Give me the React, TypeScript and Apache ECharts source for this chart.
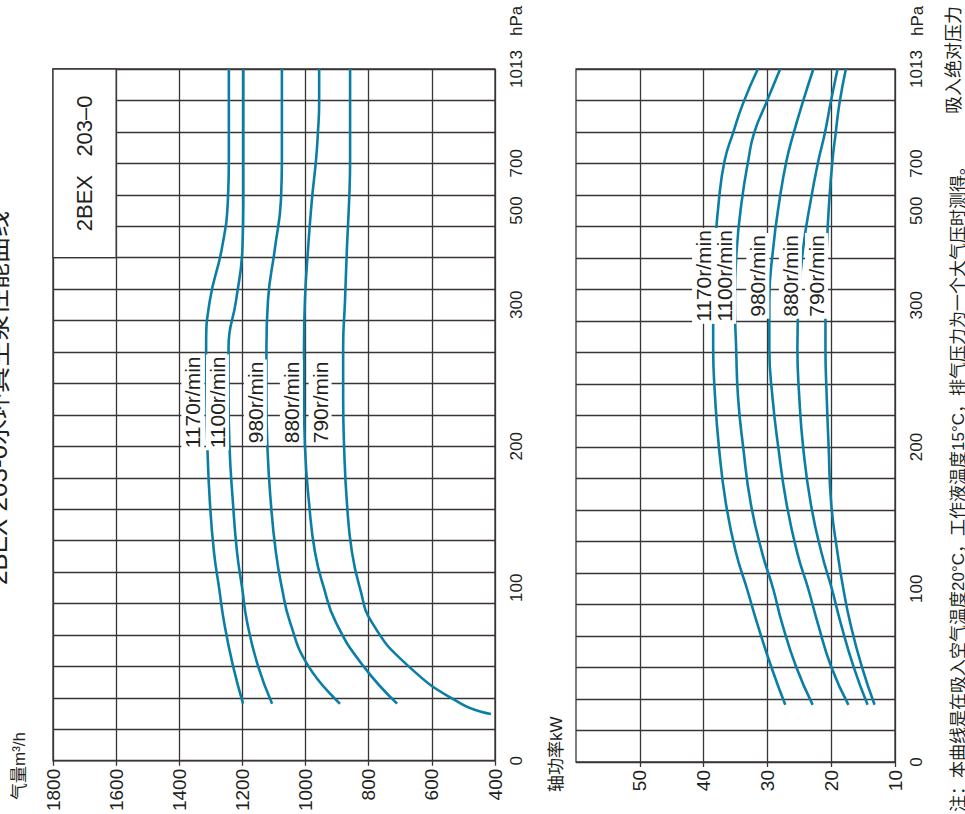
import React, { useEffect, useRef } from 'react';
import * as echarts from 'echarts';

// ---- pressure axis (hPa): tick labels and their place on the 22-division grid
const PRESSURE_TICKS = [0, 100, 200, 300, 500, 700, 1013];
const PRESSURE_TICK_POS = [0, 5.5, 10, 14.5, 17.5, 19, 22];

// ---- other tick labels
const FLOW_TICKS = [400, 600, 800, 1000, 1200, 1400, 1600, 1800];
const POWER_TICKS = [10, 20, 30, 40, 50];

// ---- curves
const SPEEDS = ['1170r/min', '1100r/min', '980r/min', '880r/min', '790r/min'];
const PRESSURE = [33, 55, 80, 100, 125, 160, 200, 235, 270, 310, 420, 545, 710, 800, 900, 1013];
const PRESSURE_790 = [27, 33, 55, 80, 100, 125, 160, 200, 235, 270, 310, 420, 545, 710, 800, 900, 1013];

// 气量 m3/h
const FLOW_1170 = [1198, 1230, 1258, 1274, 1290, 1303, 1311, 1314, 1315, 1303, 1265, 1246, 1243, 1243, 1243, 1243];
const FLOW_1100 = [1106, 1151, 1185, 1201, 1217, 1230, 1241, 1244, 1244, 1220, 1200, 1197, 1197, 1197, 1197, 1197];
const FLOW_980 = [891, 992, 1049, 1075, 1094, 1110, 1121, 1124, 1124, 1119, 1097, 1078, 1075, 1075, 1075, 1075];
const FLOW_880 = [710, 818, 904, 942, 970, 989, 1002, 1005, 1005, 1002, 992, 980, 967, 961, 957, 957];
const FLOW_790 = [413, 508, 676, 790, 828, 853, 869, 878, 881, 881, 875, 869, 862, 859, 859, 859, 859];

// 轴功率 kW
const POWER_1170 = [27.2, 29.4, 31.6, 33.2, 34.9, 36.5, 37.6, 38.2, 38.5, 38.5, 38.2, 37.6, 36.7, 35.4, 33.8, 31.5];
const POWER_1100 = [22.9, 25.5, 27.7, 29.1, 30.8, 32.6, 33.8, 34.6, 34.9, 35.1, 34.8, 34.0, 33.0, 32.1, 30.2, 28.0];
const POWER_980 = [17.3, 20.0, 22.1, 23.6, 25.3, 27.0, 28.3, 29.2, 29.7, 29.7, 29.1, 28.1, 27.0, 25.9, 24.5, 22.8];
const POWER_880 = [14.3, 16.5, 18.5, 19.9, 21.5, 23.2, 24.4, 25.0, 25.3, 25.1, 24.4, 23.2, 22.0, 21.0, 20.1, 19.0];
const POWER_790 = [13.2, 15.2, 17.0, 18.1, 19.0, 20.0, 20.4, 20.7, 20.9, 20.9, 20.7, 20.3, 19.8, 19.3, 18.7, 17.7];

// ---- curve label anchors (data coordinates)
const FLOW_LABEL_AT = [1357, 1279, 1159, 1045, 954];
const FLOW_LABEL_P = 231;
const POWER_LABEL_AT = [40.0, 36.7, 31.5, 26.4, 22.3];
const POWER_LABEL_P = 362;

const TITLE = '2BEX 203-0水环真空泵性能曲线';
const MODEL = '2BEX   203–0';
const NOTE = '注：本曲线是在吸入空气温度20°C，工作液温度15°C，排气压力为一个大气压时测得。';

const FONT = "'Liberation Sans', Arial, 'Noto Sans CJK SC', sans-serif";
const GRID_C = '#3b3435';
const CURVE_C = '#0b7ea6';
const TEXT_C = '#231f20';

function pToPos(p: number): number {
  for (let i = 1; i < PRESSURE_TICKS.length; i++) {
    if (p <= PRESSURE_TICKS[i]) {
      const p0 = PRESSURE_TICKS[i - 1];
      const p1 = PRESSURE_TICKS[i];
      const q0 = PRESSURE_TICK_POS[i - 1];
      const q1 = PRESSURE_TICK_POS[i];
      return q0 + ((p - p0) / (p1 - p0)) * (q1 - q0);
    }
  }
  return PRESSURE_TICK_POS[PRESSURE_TICK_POS.length - 1];
}

function pressureLabel(v: number): string {
  let best = 0;
  for (let i = 0; i < PRESSURE_TICK_POS.length; i++) {
    if (Math.abs(PRESSURE_TICK_POS[i] - v) < Math.abs(PRESSURE_TICK_POS[best] - v)) best = i;
  }
  return String(PRESSURE_TICKS[best]);
}

function buildOption() {
  const flows = [FLOW_1170, FLOW_1100, FLOW_980, FLOW_880, FLOW_790];
  const powers = [POWER_1170, POWER_1100, POWER_980, POWER_880, POWER_790];
  const lineStyle = { color: GRID_C, width: 1.3 };

  const curve = (data: number[][], axis: number) => ({
    type: 'line',
    xAxisIndex: axis,
    yAxisIndex: axis,
    data,
    smooth: 0.5,
    showSymbol: false,
    silent: true,
    lineStyle: { color: CURVE_C, width: 2.6 },
    z: 3,
  });

  const flowSeries = flows.map((f, i) => {
    const ps = i === 4 ? PRESSURE_790 : PRESSURE;
    return curve(ps.map((p, j) => [f[j], pToPos(p)]), 0);
  });
  const powerSeries = powers.map((w) => curve(PRESSURE.map((p, j) => [w[j], pToPos(p)]), 1));

  const labelStyle = {
    show: true,
    position: 'inside',
    rotate: 90,
    formatter: '{b}',
    fontSize: 21,
    color: TEXT_C,
    opacity: 1,
    textBorderWidth: 0,
    textShadowBlur: 0,
    fontFamily: FONT,
    backgroundColor: '#fff',
    padding: [1, 2, 1, 2],
  };

  const pressureAxis = (gridIndex: number) => ({
    gridIndex,
    type: 'value',
    min: 0,
    max: 22,
    interval: 1,
    position: 'right',
    axisLine: { show: false },
    axisTick: { show: false },
    axisLabel: {
      customValues: PRESSURE_TICK_POS,
      formatter: (v: number) => pressureLabel(v),
      rotate: 90,
      fontSize: 17,
      margin: 13,
      color: TEXT_C,
      fontFamily: FONT,
    },
    splitLine: { show: true, lineStyle },
  });

  const vText = (text: string, x: number, y: number, size: number, align: string) => ({
    type: 'text',
    x,
    y,
    rotation: Math.PI / 2,
    silent: true,
    style: {
      text,
      fontSize: size,
      fontFamily: FONT,
      fill: TEXT_C,
      align,
      verticalAlign: 'middle',
      textAlign: align,
      textVerticalAlign: 'middle',
    },
  });

  const valueLabel = { rotate: 90, fontSize: 19, margin: 8, color: TEXT_C, fontFamily: FONT, formatter: (v: number) => String(v) };

  return {
    animation: false,
    backgroundColor: '#fff',
    grid: [
      { left: 53, top: 69, width: 442, height: 693, show: true, borderColor: GRID_C, borderWidth: 1.3, backgroundColor: 'transparent' },
      { left: 576, top: 69, width: 319, height: 693, show: true, borderColor: GRID_C, borderWidth: 1.3, backgroundColor: 'transparent' },
    ],
    xAxis: [
      {
        gridIndex: 0,
        type: 'value',
        min: 400,
        max: 1800,
        interval: 40,
        inverse: true,
        position: 'bottom',
        axisLine: { show: false },
        axisTick: { show: true, customValues: FLOW_TICKS, length: 5, lineStyle },
        axisLabel: { ...valueLabel, customValues: FLOW_TICKS },
        splitLine: { show: true, lineStyle },
      },
      {
        gridIndex: 1,
        type: 'value',
        min: 10,
        max: 60,
        interval: 2,
        inverse: true,
        position: 'bottom',
        axisLine: { show: false },
        axisTick: { show: true, customValues: POWER_TICKS, length: 5, lineStyle },
        axisLabel: { ...valueLabel, customValues: POWER_TICKS },
        splitLine: { show: true, lineStyle },
      },
    ],
    yAxis: [pressureAxis(0), pressureAxis(1)],
    series: [
      ...flowSeries,
      ...powerSeries,
      {
        type: 'scatter',
        xAxisIndex: 0,
        yAxisIndex: 0,
        symbolSize: 1,
        itemStyle: { color: 'rgba(255,255,255,0)' },
        silent: true,
        z: 5,
        data: SPEEDS.map((s, i) => ({ name: s, value: [FLOW_LABEL_AT[i], pToPos(FLOW_LABEL_P)] })),
        label: labelStyle,
        markArea: {
          silent: true,
          itemStyle: { color: '#fff', borderColor: GRID_C, borderWidth: 1.3 },
          label: {
            show: true,
            position: 'inside',
            rotate: 90,
            fontSize: 22,
            color: TEXT_C,
            fontFamily: FONT,
            formatter: MODEL,
          },
          data: [[{ coord: [1800, 16] }, { coord: [1600, 22] }]],
        },
      },
      {
        type: 'scatter',
        xAxisIndex: 1,
        yAxisIndex: 1,
        symbolSize: 1,
        itemStyle: { color: 'rgba(255,255,255,0)' },
        silent: true,
        z: 5,
        data: SPEEDS.map((s, i) => ({ name: s, value: [POWER_LABEL_AT[i], pToPos(POWER_LABEL_P)] })),
        label: labelStyle,
      },
    ],
    graphic: [
      vText(TITLE, -2, 398, 26, 'center'),
      vText('气量m³/h', 19, 800, 17, 'left'),
      vText('轴功率kW', 556, 792, 17, 'left'),
      vText('hPa', 516, 36, 17, 'left'),
      vText('hPa', 917, 36, 17, 'left'),
      vText('吸入绝对压力', 954, 114, 18, 'left'),
      vText(NOTE, 958, 812, 17, 'left'),
    ],
  };
}

export default function App() {
  const ref = useRef<HTMLDivElement>(null);
  useEffect(() => {
    const chart = echarts.init(ref.current as HTMLDivElement, undefined, { renderer: 'svg' });
    chart.setOption(buildOption() as any);
    return () => chart.dispose();
  }, []);
  return (
    <div
      ref={ref}
      style={{ position: 'fixed', left: 0, top: 0, width: 965, height: 814, background: '#fff' }}
    />
  );
}
